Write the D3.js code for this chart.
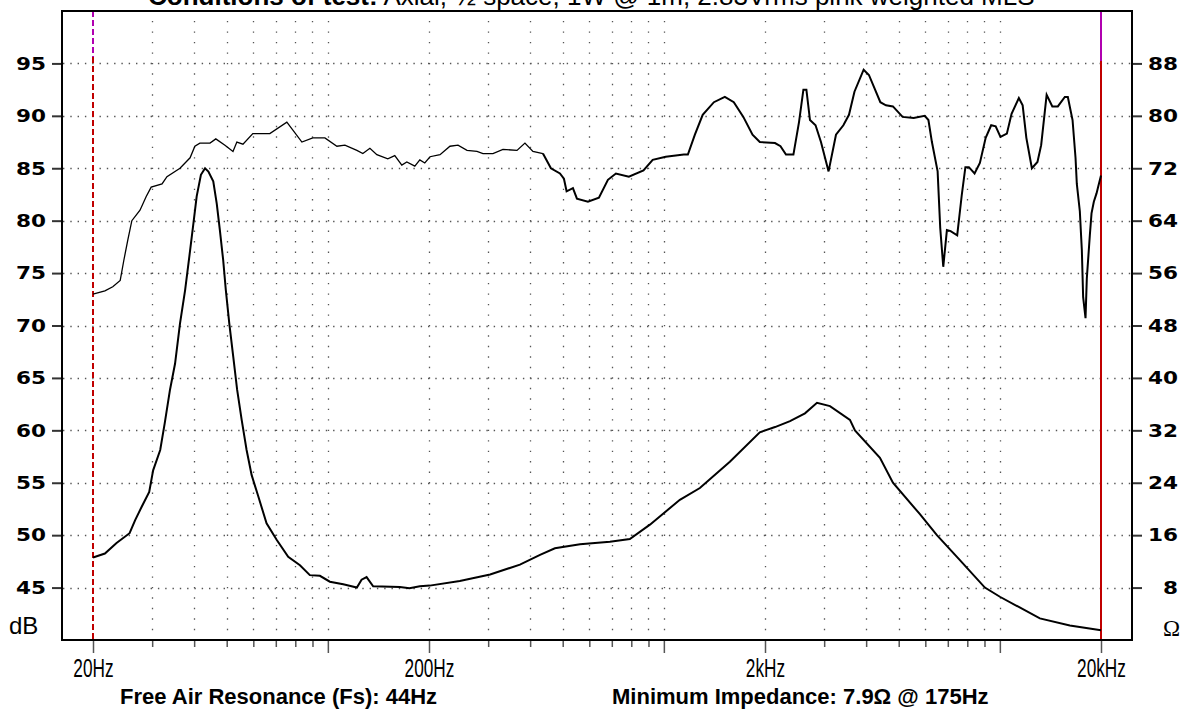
<!DOCTYPE html>
<html>
<head>
<meta charset="utf-8">
<script src="https://cdn.jsdelivr.net/npm/d3@7"></script>
<style>
  body { margin: 0; background: #fff; }
  svg { display: block; }
</style>
</head>
<body>
<svg id="chart" width="1190" height="715"></svg>
<script>
// SPL response, [Hz, dB]
const splData = [
    [20.0, 73.0], [21.7, 73.3], [22.9, 73.7], [24.1, 74.3], [24.7, 76.2], [25.4, 78.2], [26.1, 80.0],
    [27.6, 81.0], [28.8, 82.3], [29.8, 83.2], [32.1, 83.5], [33.2, 84.2], [36.3, 85.0], [38.9, 86.0],
    [40.2, 87.1], [41.6, 87.4], [44.6, 87.4], [46.4, 87.8], [49.4, 87.2], [52.2, 86.6], [53.6, 87.5],
    [55.9, 87.3], [59.8, 88.3], [67.2, 88.3], [75.5, 89.4], [83.7, 87.5], [90.2, 87.9], [98.0, 87.9],
    [106.4, 87.1], [112.4, 87.2], [122.0, 86.7], [127.1, 86.4], [133.4, 86.9], [139.9, 86.3],
    [150.8, 85.9], [158.2, 86.2], [166.0, 85.3], [171.8, 85.6], [181.5, 85.2], [187.8, 85.8],
    [194.3, 85.5], [201.4, 86.1], [215.7, 86.3], [230.9, 87.1], [244.0, 87.2], [259.5, 86.7],
    [277.9, 86.6], [289.5, 86.4], [310.0, 86.4], [332.0, 86.8], [365.5, 86.7], [386.0, 87.4],
    [407.7, 86.6], [436.7, 86.4], [461.2, 85.0], [490.6, 84.5], [504.2, 84.0], [513.5, 82.8],
    [536.3, 83.1], [551.2, 82.1], [594.3, 81.8], [640.8, 82.2], [681.6, 83.9], [720.0, 84.5],
    [786.9, 84.2], [869.7, 84.8], [926.3, 85.8], [1013, 86.1], [1147, 86.3], [1179, 86.3],
    [1237, 88.2], [1305, 90.1], [1409, 91.3], [1519, 91.8], [1615, 91.3], [1724, 89.9], [1836, 88.2],
    [1930, 87.5], [2142, 87.4], [2224, 87.1], [2309, 86.3], [2430, 86.3], [2525, 89.4], [2602, 92.5],
    [2656, 92.5], [2722, 89.6], [2828, 89.1], [2935, 87.5], [3092, 84.7], [3253, 88.2], [3422, 89.1],
    [3556, 90.1], [3692, 92.3], [3932, 94.4], [4077, 93.9], [4409, 91.3], [4581, 91.0], [4806, 90.9],
    [5135, 89.9], [5539, 89.8], [5975, 90.0], [6129, 89.6], [6278, 87.5], [6528, 84.7], [6646, 79.3],
    [6785, 75.6], [6957, 79.1], [7136, 79.0], [7465, 78.6], [7700, 82.4], [7896, 85.1], [8088, 85.1],
    [8409, 84.5], [8721, 85.5], [9074, 87.9], [9423, 89.1], [9718, 89.0], [10042, 88.0], [10492, 88.3],
    [10836, 90.2], [11391, 91.7], [11691, 91.0], [11991, 87.9], [12453, 85.0], [12939, 85.6],
    [13272, 87.2], [13780, 92.0], [14327, 90.9], [14879, 90.9], [15609, 91.8], [15934, 91.8],
    [16457, 89.6], [16796, 86.0], [16947, 83.5], [17299, 80.9], [17539, 77.2], [17697, 72.7],
    [17987, 70.7], [18148, 74.5], [18526, 78.6], [18742, 80.7], [19041, 81.8], [19396, 82.6],
    [19609, 83.2], [20000, 84.3]
];

// impedance, [Hz, ohm]
const impData = [
    [20.0, 12.6], [21.7, 13.2], [23.5, 14.8], [25.7, 16.3], [26.7, 18.3], [27.9, 20.3], [29.4, 22.6],
    [30.2, 25.9], [31.7, 29.0], [32.7, 33.1], [33.9, 38.2], [35.1, 42.2], [36.3, 48.3], [37.6, 53.4],
    [38.7, 58.5], [39.8, 63.6], [40.7, 67.7], [41.9, 71.0], [43.1, 72.0], [44.1, 71.5], [45.6, 70.0],
    [46.7, 66.6], [47.7, 62.6], [48.8, 58.0], [49.7, 53.4], [50.9, 48.3], [52.3, 43.2], [53.7, 38.2],
    [55.4, 33.6], [57.3, 29.0], [59.3, 25.2], [62.1, 21.9], [65.7, 17.8], [70.4, 15.3], [76.2, 12.7],
    [82.6, 11.4], [88.4, 9.9], [94.7, 9.8], [101.4, 8.9], [111.1, 8.5], [122, 8.0], [126, 9.2],
    [130.4, 9.6], [136.4, 8.2], [163.8, 8.1], [175, 7.9], [187.8, 8.2], [201, 8.3], [247, 9.0],
    [304, 10.0], [373, 11.5], [428, 13.0], [474, 14.0], [563, 14.6], [691, 15.0], [792, 15.4],
    [909, 17.6], [1116, 21.4], [1280, 23.2], [1572, 27.2], [1930, 31.7], [2142, 32.5], [2374, 33.4],
    [2630, 34.6], [2856, 36.2], [3122, 35.7], [3580, 33.6], [3705, 32.0], [4397, 27.8], [4806, 24.0],
    [5782, 19.2], [6496, 16.0], [7605, 12.2], [9025, 8.0], [10002, 6.6], [13154, 3.3], [16154, 2.2],
    [20000, 1.5]
];

const dbTicks = [45, 50, 55, 60, 65, 70, 75, 80, 85, 90, 95];
const ohmTicks = [8, 16, 24, 32, 40, 48, 56, 64, 72, 80, 88];
const freqTicks = [20, 30, 40, 50, 60, 70, 80, 90, 100, 200, 300, 400, 500, 600, 700, 800, 900,
    1000, 2000, 3000, 4000, 5000, 6000, 7000, 8000, 9000, 10000, 20000];
const longTicks = [20, 100, 200, 1000, 2000, 10000, 20000];
const freqLabelValues = [20, 200, 2000, 20000];
const freqLabelTexts = ["20Hz", "200Hz", "2kHz", "20kHz"];

const titleBold = "Conditions of test:";
const titleRest = " Axial, \u00BD space, 1W @ 1m, 2.83Vrms pink weighted MLS";
const noteLeft = "Free Air Resonance (Fs): 44Hz";
const noteRight = "Minimum Impedance: 7.9\u03A9 @ 175Hz";

// frame of the plot
var frameL = 62, frameR = 1132, frameT = 11, frameB = 640;

var svg = d3.select("#chart");

var x = d3.scaleLog().domain([20, 20000]).range([93, 1101]);
var y = d3.scaleLinear().domain([40, 100]).range([frameB, frameT]);
var yOhm = d3.scaleLinear().domain([0, 96]).range([frameB, frameT]);

// dotted grid
var grid = svg.append("g");
grid.selectAll(".hg").data(dbTicks).enter().append("line")
    .attr("x1", frameL + 1).attr("x2", frameR)
    .attr("y1", d => Math.round(y(d)) + 0.5).attr("y2", d => Math.round(y(d)) + 0.5)
    .attr("stroke", "#555").attr("stroke-width", 1.3)
    .attr("stroke-dasharray", "1.4,5.9");

grid.selectAll(".vg").data(freqTicks.filter(d => d > 20 && d < 20000)).enter().append("line")
    .attr("x1", d => Math.round(x(d)) + 0.5).attr("x2", d => Math.round(x(d)) + 0.5)
    .attr("y1", frameB).attr("y2", frameT)
    .attr("stroke", "#555").attr("stroke-width", 1.3)
    .attr("stroke-dasharray", "1.4,9.08")
    .attr("stroke-dashoffset", -9.8);

// 20Hz and 20kHz markers
var x20 = Math.round(x(20)), x20k = Math.round(x(20000));
svg.append("line").attr("x1", x20).attr("x2", x20).attr("y1", frameT).attr("y2", 57)
    .attr("stroke", "#b000b0").attr("stroke-width", 2).attr("stroke-dasharray", "6,3");
svg.append("line").attr("x1", x20).attr("x2", x20).attr("y1", 57).attr("y2", frameB)
    .attr("stroke", "#c00000").attr("stroke-width", 2).attr("stroke-dasharray", "6,3");
svg.append("line").attr("x1", x20k).attr("x2", x20k).attr("y1", frameT).attr("y2", 61)
    .attr("stroke", "#b000b0").attr("stroke-width", 2);
svg.append("line").attr("x1", x20k).attr("x2", x20k).attr("y1", 61).attr("y2", frameB)
    .attr("stroke", "#c00000").attr("stroke-width", 2);

// curves
var splLine = d3.line().x(d => x(d[0])).y(d => y(d[1]));
var impLine = d3.line().x(d => x(d[0])).y(d => yOhm(d[1]));

svg.append("path").datum(splData.filter(d => d[0] <= 440))
    .attr("d", splLine).attr("fill", "none").attr("stroke", "#000").attr("stroke-width", 1.3);
svg.append("path").datum(splData.filter(d => d[0] >= 436))
    .attr("d", splLine).attr("fill", "none").attr("stroke", "#000").attr("stroke-width", 2);
svg.append("path").datum(impData)
    .attr("d", impLine).attr("fill", "none").attr("stroke", "#000").attr("stroke-width", 2);

// axes
var axL = svg.append("g").attr("transform", `translate(${frameL},0)`)
    .call(d3.axisLeft(y).tickValues(dbTicks).tickSize(10).tickFormat(d3.format("d")));
axL.select(".domain").remove();
axL.selectAll(".tick line").attr("stroke", "#333").attr("stroke-width", 2);
axL.selectAll(".tick text").attr("x", -16)
    .style("font", "bold 18px 'DejaVu Sans'").attr("fill", "#000")
    .attr("textLength", d => String(d).length * 15).attr("lengthAdjust", "spacingAndGlyphs");

var axR = svg.append("g").attr("transform", `translate(${frameR},0)`)
    .call(d3.axisRight(yOhm).tickValues(ohmTicks).tickSize(10).tickFormat(d3.format("d")));
axR.select(".domain").remove();
axR.selectAll(".tick line").attr("stroke", "#333").attr("stroke-width", 2);
axR.selectAll(".tick text").attr("x", 46).attr("text-anchor", "end")
    .style("font", "bold 18px 'DejaVu Sans'").attr("fill", "#000")
    .attr("textLength", d => String(d).length * 15).attr("lengthAdjust", "spacingAndGlyphs");

var axB = svg.append("g").attr("transform", `translate(0,${frameB})`)
    .call(d3.axisBottom(x).tickValues(freqTicks).tickSize(6)
        .tickFormat(d => {
            var i = freqLabelValues.indexOf(d);
            return i < 0 ? "" : freqLabelTexts[i];
        }));
axB.select(".domain").remove();
axB.selectAll(".tick line").attr("stroke", "#555").attr("stroke-width", 1.5)
    .attr("y2", d => longTicks.indexOf(d) >= 0 ? 13 : 7);
axB.selectAll(".tick text").attr("y", 37).attr("dy", 0)
    .attr("transform", "scale(0.69,1)")
    .style("font", "25px 'Liberation Sans'").attr("fill", "#000");

// frame
svg.append("rect").attr("x", frameL).attr("y", frameT)
    .attr("width", frameR - frameL).attr("height", frameB - frameT)
    .attr("fill", "none").attr("stroke", "#000").attr("stroke-width", 2);

// unit labels
svg.append("text").attr("x", 9).attr("y", 634).text("dB")
    .style("font", "24px 'Liberation Sans'");
svg.append("text").attr("x", 1180).attr("y", 636).attr("text-anchor", "end").text("\u03A9")
    .style("font", "23px 'Liberation Serif'");

// title, cut off at the top edge
var title = svg.append("text").attr("x", 148).attr("y", 5)
    .style("font", "26px 'Liberation Sans'");
title.append("tspan").attr("font-weight", "bold").text(titleBold);
title.append("tspan").text(titleRest);

// notes
svg.append("text").attr("x", 120).attr("y", 704).text(noteLeft)
    .style("font", "bold 22px 'Liberation Sans'");
svg.append("text").attr("x", 612).attr("y", 704).text(noteRight)
    .style("font", "bold 22px 'Liberation Sans'");
</script>
</body>
</html>
